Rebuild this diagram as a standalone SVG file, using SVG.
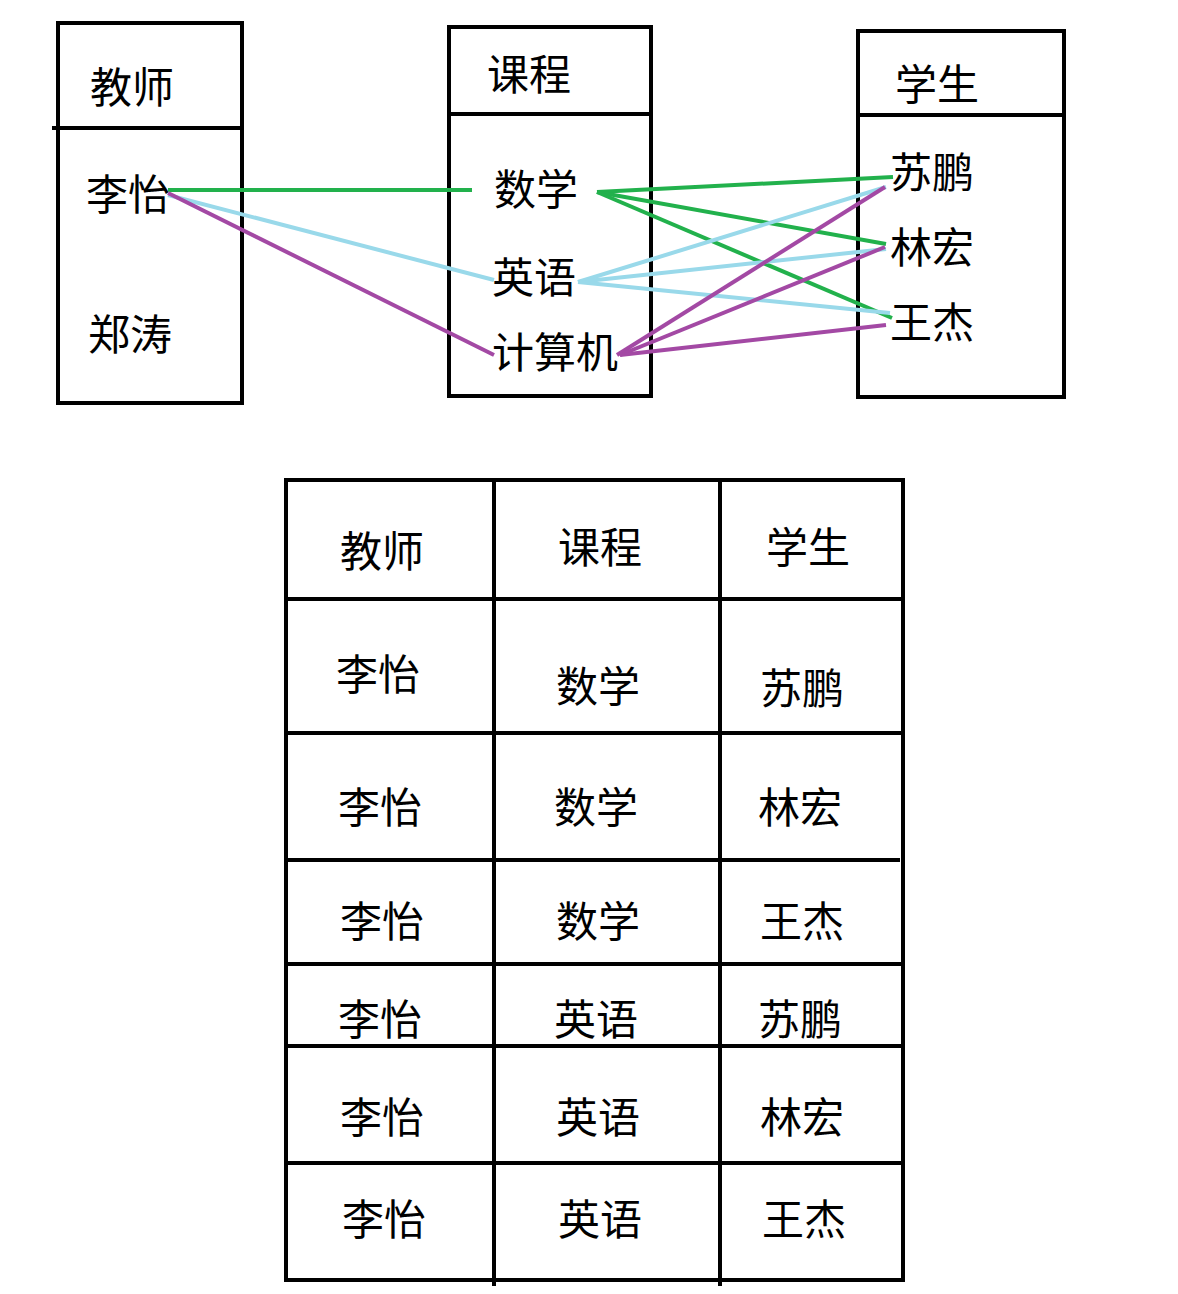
<svg xmlns="http://www.w3.org/2000/svg" width="1178" height="1294" viewBox="0 0 1178 1294">
<style>
.b{fill:none;stroke:#000;stroke-width:4}
text{font-family:"Noto Sans CJK SC",sans-serif;font-size:42px;fill:#000}
.g{stroke:#22b14c;stroke-width:4}
.c{stroke:#99d9ea;stroke-width:4}
.p{stroke:#a349a4;stroke-width:4}
</style>
<rect width="1178" height="1294" fill="#fff"/>
<g id="teacher"><rect class="b" x="58" y="23" width="184" height="380"/><line class="b" x1="52" y1="128" x2="242" y2="128"/>
<text x="90" y="103">教师</text><text x="86" y="210">李怡</text><text x="88" y="350">郑涛</text></g>
<g id="course"><rect class="b" x="449" y="27" width="202" height="369"/><line class="b" x1="449" y1="114" x2="651" y2="114"/>
<text x="487" y="90">课程</text><text x="494" y="205">数学</text><text x="492" y="293">英语</text><text x="492" y="368">计算机</text></g>
<g id="student"><rect class="b" x="858" y="31" width="206" height="366"/><line class="b" x1="856" y1="115" x2="1066" y2="115"/>
<text x="895" y="100">学生</text><text x="890" y="188">苏鹏</text><text x="890" y="263">林宏</text><text x="890" y="338">王杰</text></g>
<g id="connectors">
<line class="g" x1="168" y1="190" x2="472" y2="190"/>
<line class="g" x1="597" y1="192" x2="893" y2="177"/>
<line class="g" x1="597" y1="192" x2="886" y2="244"/>
<line class="g" x1="597" y1="192" x2="892" y2="318"/>
<line class="c" x1="168" y1="195" x2="494" y2="280"/>
<line class="c" x1="578" y1="282" x2="886" y2="187"/>
<line class="c" x1="578" y1="282" x2="886" y2="249"/>
<line class="c" x1="578" y1="282" x2="890" y2="313"/>
<line class="p" x1="168" y1="193" x2="494" y2="355"/>
<line class="p" x1="617" y1="355" x2="885" y2="187"/>
<line class="p" x1="620" y1="355" x2="885" y2="247"/>
<line class="p" x1="620" y1="355" x2="886" y2="325"/>
</g>
<g id="table">
<rect class="b" x="286" y="480" width="617" height="800"/>
<line class="b" x1="494" y1="480" x2="494" y2="1286"/>
<line class="b" x1="720" y1="480" x2="720" y2="1286"/>
<line class="b" x1="286" y1="599" x2="903" y2="599"/>
<line class="b" x1="286" y1="733" x2="903" y2="733"/>
<line class="b" x1="286" y1="860" x2="900" y2="860"/>
<line class="b" x1="286" y1="964" x2="903" y2="964"/>
<line class="b" x1="286" y1="1046" x2="903" y2="1046"/>
<line class="b" x1="286" y1="1163" x2="903" y2="1163"/>
<text x="340" y="567">教师</text><text x="558" y="563">课程</text><text x="766" y="563">学生</text>
<text x="336" y="690">李怡</text><text x="556" y="702">数学</text><text x="760" y="704">苏鹏</text>
<text x="338" y="823">李怡</text><text x="554" y="823">数学</text><text x="758" y="823">林宏</text>
<text x="340" y="937">李怡</text><text x="556" y="937">数学</text><text x="760" y="937">王杰</text>
<text x="338" y="1035">李怡</text><text x="554" y="1035">英语</text><text x="758" y="1035">苏鹏</text>
<text x="340" y="1133">李怡</text><text x="556" y="1133">英语</text><text x="760" y="1133">林宏</text>
<text x="342" y="1235">李怡</text><text x="558" y="1235">英语</text><text x="762" y="1235">王杰</text>
</g>
</svg>
